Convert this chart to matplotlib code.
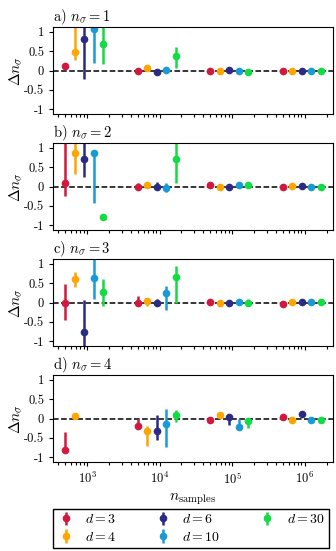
import numpy as np
import matplotlib
matplotlib.use('Agg')
import matplotlib.pyplot as plt

plt.rcParams['font.family'] = 'serif'
plt.rcParams['font.serif'] = ['cmr10', 'DejaVu Serif']
plt.rcParams['mathtext.fontset'] = 'cm'
plt.rcParams['axes.unicode_minus'] = False
plt.rcParams['axes.formatter.use_mathtext'] = True
plt.rcParams['font.size'] = 9.5

nan = np.nan

n_samples = [500, 5000, 50000, 500000]
dims = [3, 4, 6, 10, 30]
colors = ['#d2183c', '#ffa500', '#2b2b86', '#179ad6', '#12dc44']
titles = [r'a) $n_\sigma = 1$', r'b) $n_\sigma = 2$', r'c) $n_\sigma = 3$', r'd) $n_\sigma = 4$']

# rows: d = 3, 4, 6, 10, 30 ; columns: n_samples
val_a = [[0.12, 0.00, -0.01, 0.00],
         [0.48, 0.06, -0.02, 0.00],
         [0.80, -0.03, 0.01, 0.00],
         [1.08, 0.02, 0.00, 0.00],
         [0.67, 0.37, -0.03, 0.00]]
lo_a = [[0.12, 0.00, -0.01, 0.00],
        [0.27, 0.06, -0.02, 0.00],
        [-0.22, -0.03, 0.01, 0.00],
        [0.19, 0.00, 0.00, 0.00],
        [0.16, 0.06, -0.03, 0.00]]
hi_a = [[0.12, 0.00, -0.01, 0.00],
        [1.50, 0.06, -0.02, 0.00],
        [1.50, -0.03, 0.01, 0.00],
        [1.50, 0.04, 0.00, 0.00],
        [1.50, 0.60, -0.03, 0.00]]

val_b = [[0.10, 0.00, 0.03, 0.00],
         [0.86, 0.05, 0.00, 0.01],
         [0.70, 0.00, -0.02, 0.02],
         [0.85, -0.03, 0.04, 0.00],
         [-0.79, 0.70, 0.03, -0.02]]
lo_b = [[-0.25, -0.08, 0.03, 0.00],
        [0.31, -0.05, 0.00, 0.01],
        [0.25, -0.10, -0.08, 0.02],
        [-0.42, -0.14, 0.04, 0.00],
        [-0.79, 0.10, 0.03, -0.02]]
hi_b = [[1.50, 0.10, 0.03, 0.00],
        [1.50, 0.12, 0.00, 0.01],
        [1.50, 0.12, 0.03, 0.02],
        [0.93, 0.08, 0.04, 0.00],
        [-0.79, 1.50, 0.03, -0.02]]

val_c = [[0.00, 0.00, 0.01, -0.03],
         [0.60, 0.03, -0.01, 0.01],
         [-0.75, -0.02, 0.00, 0.02],
         [0.62, 0.24, 0.02, 0.01],
         [0.26, 0.66, 0.00, 0.02]]
lo_c = [[-0.45, -0.10, 0.01, -0.03],
        [0.39, -0.10, -0.01, -0.02],
        [-1.50, -0.08, 0.00, 0.02],
        [0.09, -0.20, -0.06, 0.01],
        [-0.10, 0.00, -0.06, 0.02]]
hi_c = [[0.47, 0.17, 0.01, -0.03],
        [0.78, 0.10, -0.01, 0.05],
        [0.07, 0.08, 0.00, 0.02],
        [1.50, 0.43, 0.10, 0.01],
        [0.60, 0.94, 0.08, 0.02]]

val_d = [[-0.81, -0.20, -0.03, 0.04],
         [0.06, -0.33, 0.10, -0.03],
         [nan, -0.33, 0.04, 0.12],
         [nan, -0.14, -0.23, -0.03],
         [nan, 0.08, -0.07, -0.03]]
lo_d = [[-0.84, -0.22, -0.10, -0.02],
        [0.06, -0.70, 0.10, -0.03],
        [nan, -0.55, -0.18, 0.12],
        [nan, -0.74, -0.29, -0.03],
        [nan, -0.10, -0.24, -0.03]]
hi_d = [[-0.36, 0.00, 0.00, 0.10],
        [0.06, -0.20, 0.10, -0.03],
        [nan, 0.10, 0.10, 0.12],
        [nan, 0.25, 0.00, -0.03],
        [nan, 0.23, 0.00, -0.03]]

panels = [(val_a, lo_a, hi_a), (val_b, lo_b, hi_b), (val_c, lo_c, hi_c), (val_d, lo_d, hi_d)]

fig, axes = plt.subplots(4, 1, figsize=(3.36, 5.51), dpi=100, sharex=True)
fig.subplots_adjust(left=0.158, right=0.991, top=0.951, bottom=0.1615, hspace=0.333)

for ax, title, (val, lo, hi) in zip(axes, titles, panels):
    for k, (d, c) in enumerate(zip(dims, colors)):
        x = np.array(n_samples) * 10 ** (0.13 * k)
        v = np.array(val[k])
        yerr = [v - np.array(lo[k]), np.array(hi[k]) - v]
        ax.errorbar(x, v, yerr=yerr, fmt='o', color=c, ms=4.5, elinewidth=1.8,
                    capsize=0, label=r'$d = %d$' % d)
    ax.axhline(0, color='black', ls='--', lw=1.1, zorder=0)
    ax.set_xscale('log')
    ax.set_xlim(340, 2.45e6)
    ax.set_ylim(-1.12, 1.12)
    ax.set_yticks([-1, -0.5, 0, 0.5, 1])
    ax.set_yticklabels(['-1', '-0.5', '0', '0.5', '1'])
    ax.set_ylabel(r'$\Delta n_\sigma$', fontsize=11, labelpad=0)
    ax.set_title(title, loc='left', fontsize=10.5, pad=3)
    ax.tick_params(which='both', direction='out', length=3, width=0.8, labelsize=9)
    ax.tick_params(which='minor', length=2)

axes[-1].set_xlabel(r'$n_\mathrm{samples}$', fontsize=11, labelpad=3)

handles, labels = axes[0].get_legend_handles_labels()
fig.legend(handles, labels, ncol=3, loc='lower left', mode='expand',
           bbox_to_anchor=(0.158, 0.006, 0.821, 0.074), fancybox=False,
           edgecolor='black', framealpha=1, handlelength=1.2, fontsize=10,
           borderaxespad=0.0, labelspacing=0.3, borderpad=0.3)

fig.savefig('out.png', dpi=100)
